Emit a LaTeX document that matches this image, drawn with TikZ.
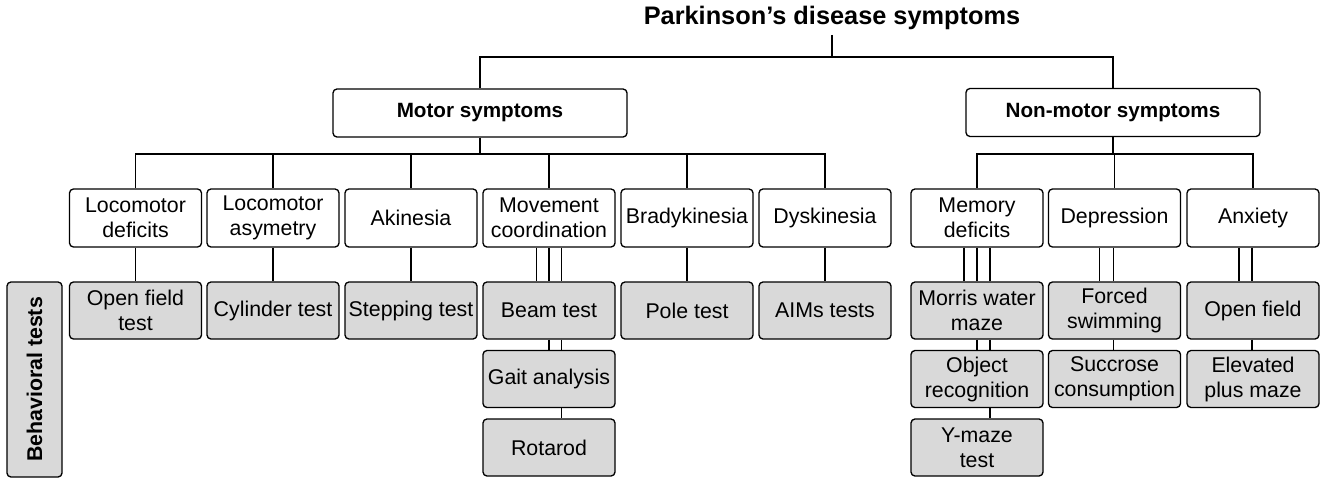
\documentclass[tikz,border=0pt]{standalone}
\usepackage{fontspec}
\setmainfont{Liberation Sans}
\usetikzlibrary{calc}

\begin{document}
\begin{tikzpicture}
[x=0.75pt,y=-0.75pt,line width=1pt,
catbox/.style={draw,rounded corners=3pt,minimum width=220.5pt,minimum height=36pt,inner sep=0pt,font=\fontsize{15.5}{18}\selectfont\bfseries},
symbox/.style={draw,rounded corners=3pt,fill=white,minimum width=99pt,minimum height=43.5pt,inner sep=0pt,align=center,font=\fontsize{16}{18.75}\selectfont},
testbox/.style={symbox,fill=gray!30,minimum height=42.75pt},]

\useasboundingbox (0,0) rectangle (1325,483);

%Row heights
\def\rowA{218}
\def\rowB{310.5}
\def\rowC{379}
\def\rowD{447.5}

%Labeling boxes
\node (title) at (832,18)[font=\fontsize{19}{22}\selectfont\bfseries] {Parkinson's disease symptoms};
\node (motor) at (480,113)[catbox] {Motor symptoms};
\node (nonmotor) at (1113,112.5)[catbox] {Non-motor symptoms};

\node (locdef) at (135.5,\rowA)[symbox] {Locomotor\\deficits};
\node (locasym) at (273,\rowA)[symbox] {Locomotor\\asymetry};
\node (akin) at (411,\rowA)[symbox] {Akinesia};
\node (movco) at (549,\rowA)[symbox] {Movement\\coordination};
\node (brady) at (687,\rowA)[symbox] {Bradykinesia};
\node (dysk) at (825,\rowA)[symbox] {Dyskinesia};
\node (memory) at (977,\rowA)[symbox] {Memory\\deficits};
\node (depress) at (1114.5,\rowA)[symbox] {Depression};
\node (anxiety) at (1253,\rowA)[symbox] {Anxiety};

\node (behav) at (34.5,379.5)[draw,rounded corners=3pt,fill=gray!30,rotate=90,minimum width=146.25pt,minimum height=41.25pt,inner sep=0pt,font=\fontsize{16}{18}\selectfont\bfseries] {Behavioral tests};

\node (openf) at (135.5,\rowB)[testbox] {Open field\\test};
\node (cyl) at (273,\rowB)[testbox] {Cylinder test};
\node (stepping) at (411,\rowB)[testbox] {Stepping test};
\node (beam) at (549,\rowB)[testbox] {Beam test};
\node (gait) at (549,\rowC)[testbox] {Gait analysis};
\node (rotarod) at (549,\rowD)[testbox] {Rotarod};
\node (pole) at (687,\rowB)[testbox] {Pole test};
\node (aims) at (825,\rowB)[testbox] {AIMs tests};
\node (morris) at (977,\rowB)[testbox] {Morris water\\maze};
\node (object) at (977,\rowC)[testbox] {Object\\recognition};
\node (ymaze) at (977,\rowD)[testbox] {Y-maze\\test};
\node (forced) at (1114.5,\rowB)[testbox] {Forced\\swimming};
\node (succ) at (1114.5,\rowC)[testbox] {Succrose\\consumption};
\node (openfa) at (1253,\rowB)[testbox] {Open field};
\node (elev) at (1253,\rowC)[testbox] {Elevated\\plus maze};

%Drawing tree lines
\coordinate (bar0) at (832,57);
\coordinate (bar1) at (480,154);
\coordinate (bar2) at (1113,154);
\draw (title) -- (bar0);
\draw (motor.north) |- (bar0) -| (nonmotor.north);
\draw (motor) -- (bar1);
\draw (nonmotor) -- (bar2);
\foreach \n in {locdef,locasym,akin,movco,brady,dysk}
  \draw (bar1) -| (\n.north);
\foreach \n in {memory,depress,anxiety}
  \draw (bar2) -| (\n.north);

%Drawing test lines
\draw (locdef) -- (openf);
\draw (locasym) -- (cyl);
\draw (akin) -- (stepping);
\draw (brady) -- (pole);
\draw (dysk) -- (aims);
\foreach \dx in {-12.5,0,12.5}
  \draw ($(movco.south)+(\dx,0)$) -- ($(beam.north)+(\dx,0)$);
\foreach \dx in {0,12.5}
  \draw ($(beam.south)+(\dx,0)$) -- ($(gait.north)+(\dx,0)$);
\draw ($(gait.south)+(12.5,0)$) -- ($(rotarod.north)+(12.5,0)$);
\foreach \dx in {-13,0,13}
  \draw ($(memory.south)+(\dx,0)$) -- ($(morris.north)+(\dx,0)$);
\foreach \dx in {0,13}
  \draw ($(morris.south)+(\dx,0)$) -- ($(object.north)+(\dx,0)$);
\draw ($(object.south)+(13,0)$) -- ($(ymaze.north)+(13,0)$);
\foreach \dx in {-15,-1}
  \draw ($(depress.south)+(\dx,0)$) -- ($(forced.north)+(\dx,0)$);
\draw ($(forced.south)+(-1,0)$) -- ($(succ.north)+(-1,0)$);
\foreach \dx in {-14,-1}
  \draw ($(anxiety.south)+(\dx,0)$) -- ($(openfa.north)+(\dx,0)$);
\draw ($(openfa.south)+(-1,0)$) -- ($(elev.north)+(-1,0)$);

\end{tikzpicture}
\end{document}
